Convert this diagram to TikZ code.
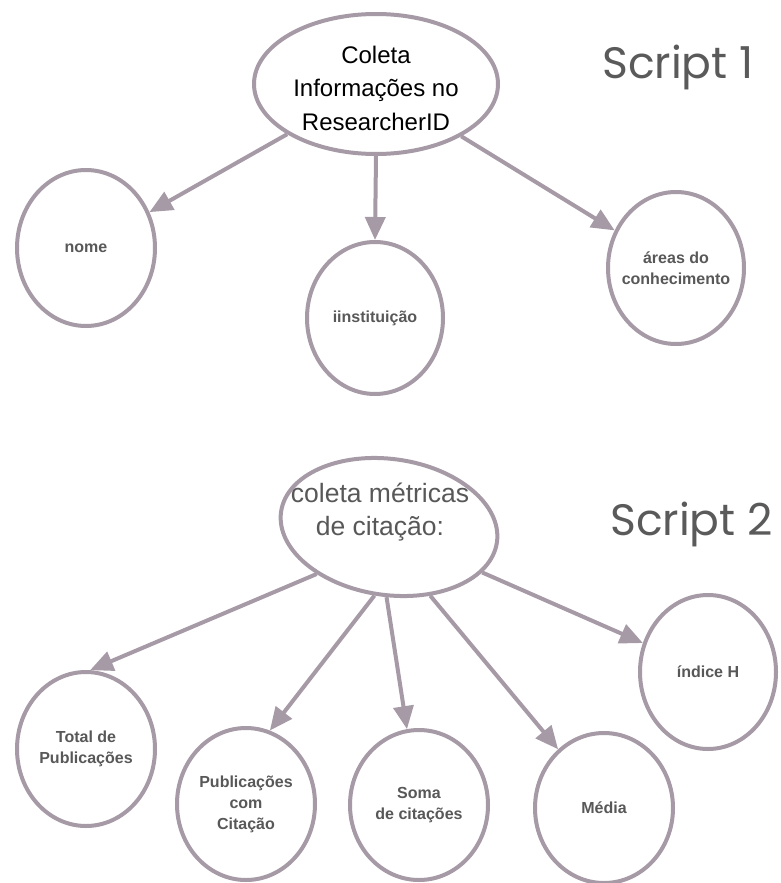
\documentclass[tikz,border=0pt]{standalone}
\usepackage{fontspec}
\setmainfont{Liberation Sans}
\newfontfamily\gothicfont{Poppins}
\usetikzlibrary{shapes.geometric,arrows.meta}
\definecolor{edgec}{RGB}{165,154,165}
\definecolor{labc}{RGB}{88,88,88}
\definecolor{scrc}{RGB}{90,90,90}
\tikzset{
  bubble/.style={ellipse,draw=edgec,line width=4pt,inner sep=0pt,fill=white},
  lab/.style={align=center,text=labc,font=\bfseries\fontsize{16}{21}\selectfont},
  bigtxt/.style={align=center,font=\fontsize{24}{33.5}\selectfont},
  bottxtstyle/.style={align=center,font=\fontsize{26.5}{33}\selectfont},
  scr/.style={anchor=base west,text=scrc,font=\gothicfont\fontsize{44}{50}\selectfont,inner sep=0pt},
  conn/.style={draw=edgec,line width=4pt,-{Triangle[length=23pt,width=20pt]}}
}
\begin{document}
\begin{tikzpicture}[x=1pt,y=-1pt]
\useasboundingbox (0,0) rectangle (781,883);
% Script 1
\node[bubble,minimum width=244pt,minimum height=140pt] (top) at (376,84) {};
\node[bigtxt,text=black] (toptxt) at (376,88) {Coleta\\Informações no\\ResearcherID};
\node[bubble,minimum width=138pt,minimum height=156pt] (nome) at (86,248) {};
\node[lab] (nometxt) at (nome.center) {nome};
\node[bubble,minimum width=136pt,minimum height=152pt] (inst) at (375,318) {};
\node[lab] (insttxt) at (inst.center) {iinstituição};
\node[bubble,minimum width=136pt,minimum height=152pt] (areas) at (676,268) {};
\node[lab] (areastxt) at (areas.center) {áreas do\\conhecimento};
\draw[conn] (top) -- (nome);
\draw[conn] (top.south) -- (inst.north);
\draw[conn] (top) -- (areas);
\node[scr] (s1) at (602,78) {Script 1};
% Script 2
\node[bubble,minimum width=218pt,minimum height=136pt,rotate=-8] (bot) at (389,527) {};
\node[bottxtstyle,text=labc] (bottxt) at (380,512) {coleta métricas\\de citação:};
\node[bubble,minimum width=138pt,minimum height=154pt] (total) at (86,749) {};
\node[lab] (totaltxt) at (total.center) {Total de\\Publicações};
\node[bubble,minimum width=138pt,minimum height=152pt] (pcc) at (246,804) {};
\node[lab] (pcctxt) at (pcc.center) {Publicações\\com\\Citação};
\node[bubble,minimum width=138pt,minimum height=150pt] (soma) at (419,805) {};
\node[lab] (somatxt) at (soma.center) {Soma\\de citações};
\node[bubble,minimum width=138pt,minimum height=150pt] (media) at (604,808) {};
\node[lab] (mediatxt) at (media.center) {Média};
\node[bubble,minimum width=136pt,minimum height=154pt] (indice) at (708,672) {};
\node[lab] (indicetxt) at (indice.center) {índice H};
\draw[conn] (bot.221) -- (total.87);
\draw[conn] (bot.266) -- (pcc.72);
\draw[conn] (bot.276) -- (soma.99);
\draw[conn] (bot.309) -- (media.128);
\draw[conn] (bot.342) -- (indice.156);
\node[scr] (s2) at (610,535) {Script 2};
\end{tikzpicture}
\end{document}
